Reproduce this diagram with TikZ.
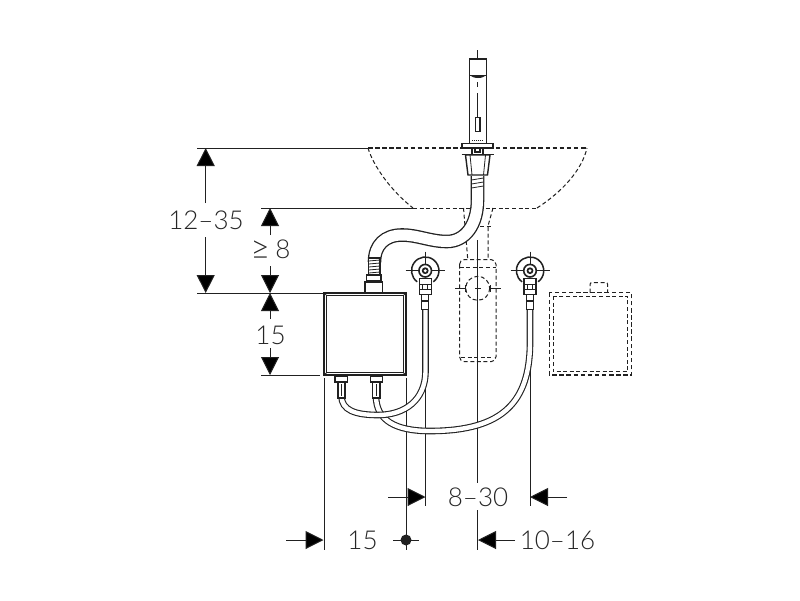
\documentclass[tikz,border=0pt]{standalone}
\usepackage{fontspec}
\usepackage{graphicx}
\setmainfont{Lato Light}
\usetikzlibrary{arrows.meta}
\definecolor{ink}{gray}{0.13}
\definecolor{txt}{gray}{0.15}
\tikzset{
  ln/.style={draw=ink,line width=1.1pt},
  thin ln/.style={draw=ink,line width=0.8pt},
  thick ln/.style={draw=ink,line width=1.7pt},
  dimline/.style={draw=ink,line width=1pt},
  dsh/.style={draw=ink,line width=1pt,dash pattern=on 4pt off 2.6pt},
  dshb/.style={draw=ink,line width=1.5pt,dash pattern=on 4.5pt off 2.6pt},
  dimarrow/.style={draw=ink,line width=1pt,-{Triangle[length=18pt,width=18pt,fill=black]},shorten >=0pt},
  dimtext/.style={text=txt,font=\fontsize{26}{28}\selectfont,inner sep=0pt,anchor=center},
  hose/.style={draw=ink,line width=1.1pt,double=white,double distance=4.4pt,line cap=butt},
  fat hose/.style={draw=ink,line width=1.3pt,double=white,double distance=11pt,line cap=butt},
  piece/.style={draw=ink,line width=1.1pt,fill=white}
}
\newcommand{\valve}[2]{%
  \begin{scope}[shift={(#1,#2)}]
    \draw[dimline] (-19.5,0) -- (19.5,0) (0,-19) -- (0,6);
    \draw[ln,line width=1.5pt] (-8,11.1) arc[start angle=126,end angle=414,radius=13.7];
    \draw[piece,line width=1.6pt] (0,0) circle[radius=6.3];
    \fill[ink] (0,0) circle[radius=3.4];
    \fill[white] (0,0) circle[radius=1.6];
    \draw[piece] (-6,8) rectangle (6,24);
    \draw[thin ln] (-6,14) -- (6,14) (-6,19) -- (6,19);
    \draw[thin ln] (-2.5,14) -- (-2.5,19) (2.5,14) -- (2.5,19);
    \draw[piece] (-3.7,24) rectangle (3.7,39);
    \draw[ink,line width=1.8pt] (-3.7,30) -- (3.7,30);
  \end{scope}}
\begin{document}
\begin{tikzpicture}[x=1pt,y=-1pt]
\useasboundingbox (0,0) rectangle (800,600);
\fill[white] (0,0) rectangle (800,600);

% text
\node[dimtext] (t1235) at (206,220) {12–35};
\node[dimtext] (t8) at (270.5,250) {\raisebox{-1pt}{\scalebox{1.3}{≥}}\hspace{5pt}8};
\node[dimtext] (t15v) at (270.5,335) {15};
\node[dimtext] (t830) at (478,497) {8–30};
\node[dimtext] (t15h) at (362.5,540) {15};
\node[dimtext] (t1016) at (557.5,540) {10–16};

% coordinates
\coordinate (basinTL) at (368,148);
\coordinate (basinTR) at (587,148);
\coordinate (basinBL) at (413,208);
\coordinate (basinBR) at (537,208);
\coordinate (boxTL) at (324,293);
\coordinate (boxBL) at (324,375);

% extension lines
\draw[dimline] (197,148) -- (basinTL);
\draw[dimline] (261,208) -- (basinBL);
\draw[dimline] (197,293) -- (boxTL);
\draw[dimline] (261,375) -- (320,375);
\draw[dimline] (324,378) -- (324,550);
\draw[dimline] (406,378) -- (406,550);
\draw[dimline] (425.5,308) -- (425.5,506);
\draw[dimline] (530,308) -- (530,506);
\draw[dimline] (477.7,240) -- (477.7,483);
\draw[dimline] (477.7,510) -- (477.7,550);

% vertical dimensions
\draw[dimarrow] (205.7,203) -- (205.7,148);
\draw[dimarrow] (205.7,237) -- (205.7,293);
\draw[dimarrow] (270,235) -- (270,208);
\draw[dimarrow] (270,266) -- (270,293);
\draw[dimarrow] (270,319) -- (270,293);
\draw[dimarrow] (270,348) -- (270,375);

% horizontal dimensions
\draw[dimarrow] (388,497) -- (425.5,497);
\draw[dimarrow] (567,497) -- (530,497);
\draw[dimarrow] (286,540) -- (323.5,540);
\draw[dimarrow] (515,540) -- (478,540);
\draw[dimline] (393,540) -- (419,540);
\fill[ink] (406,540) circle[radius=5.5];

% basin
\draw[dshb] (basinTL) -- (basinTR);
\draw[dsh] (basinTL) .. controls (373,165) and (390,190) .. (basinBL);
\draw[dsh] (basinBL) -- (basinBR);
\draw[dsh] (basinBR) .. controls (562,192) and (582,170) .. (basinTR);

% dashed alternative position
\draw[dsh] (463.5,208) -- (467.7,259);
\draw[dsh] (493,208) -- (488,226) -- (488,259);
\draw[dsh] (480,226.7) -- (491.7,226.7);
\draw[dsh,rounded corners=5pt] (459.5,259.5) rectangle (496,361.7);
\draw[dsh] (459.5,267.7) -- (496,267.7);
\draw[dsh] (461,357.3) -- (494,357.3);
\draw[dsh] (477.7,288.3) circle[radius=12];
\draw[dimline] (455,288.3) -- (465,288.3) (490.5,288.3) -- (500.7,288.3);
\draw[dimline] (465,285) -- (465,291.5) (490.5,285) -- (490.5,291.5);
\draw[dimline] (475,288.3) -- (480.5,288.3);

% dashed box on the right
\draw[dshb] (549.3,292.7) rectangle (631.7,375);
\draw[dsh] (553,296) rectangle (627.7,371.7);
\draw[dsh,rounded corners=2pt] (590,292.7) -- (590,282.5) -- (607.7,282.5) -- (607.7,292.7);

% tap
\draw[ln] (477.7,50) -- (477.7,59);
\draw[piece] (469.3,59) rectangle (486.7,143.7);
\draw[thin ln] (469.3,75) -- (486.7,75);
\fill[ink] (470.5,75) .. controls (472,79) and (484,79) .. (485.5,75) -- cycle;
\draw[thin ln] (477.7,82) -- (477.7,87);
\draw[thin ln] (477.7,93) -- (477.7,117);
\draw[piece,line width=1.3pt] (475.7,117.7) rectangle (480,131.3);
\draw[thin ln,line width=0.9pt,densely dotted] (472,140) -- (483,140);
\draw[piece] (462,143.7) rectangle (493,148);
\draw[piece] (472,148) rectangle (483,154.5);
\draw[piece] (475,148) rectangle (480,152);

% flexible hose from the tap
\draw[fat hose] (477.5,176) -- (477.5,200) .. controls (477.5,225) and (465,241.5) .. (447,241.5)
  .. controls (430,241.5) and (418,235) .. (402,235) .. controls (385,235) and (374.5,245) .. (374.5,262);
\draw[thin ln] (471.5,188) -- (483.5,186) (471.5,184) -- (483.5,182) (471.5,180) -- (483.5,178);
\draw[thick ln] (461.7,154.6) -- (494.3,154.6);
\draw[piece,line width=1.4pt] (465.5,155) -- (468,175) -- (487.5,175) -- (490,155) -- cycle;
\draw[thin ln] (470,155) -- (472,175) (485.5,155) -- (483.5,175);

% ribbed collar
\draw[piece] (368.7,258) rectangle (380,275);
\foreach \y in {261,264,267,270,273} {\draw[thin ln] (368.7,\y) -- (380,\y-1);}
\draw[piece,line width=1.4pt] (366.7,275) rectangle (381,281);
\draw[piece] (365,282) rectangle (382.3,293);

% electronics box
\draw[piece,line width=1.5pt] (boxTL) rectangle (406,375);
\draw[thin ln] (326.7,295.5) rectangle (403.3,372.7);
\draw[thin ln] (boxTL) -- (326.7,295.5) (406,293) -- (403.3,295.5) (boxBL) -- (326.7,372.7) (406,375) -- (403.3,372.7);

% hoses
\draw[hose] (530,309) -- (530,345) .. controls (529,400) and (505,431) .. (430,431)
  .. controls (395,431) and (376,420) .. (376,396);
\draw[hose] (425.5,309) -- (425.5,372) .. controls (425,400) and (405,415) .. (378,415)
  .. controls (355,415) and (341.5,410) .. (341.5,396);

% fittings
\draw[piece] (335,376) rectangle (347.7,382);
\draw[piece] (338,382) rectangle (345,398);
\draw[thin ln] (341.5,384) -- (341.5,396);
\draw[piece] (370.7,376) rectangle (382.7,382);
\draw[piece] (372.5,382) rectangle (380,398);
\draw[thin ln] (376,384) -- (376,396);

% valves
\valve{425.2}{270.7}
\valve{530}{270.7}
\end{tikzpicture}
\end{document}
